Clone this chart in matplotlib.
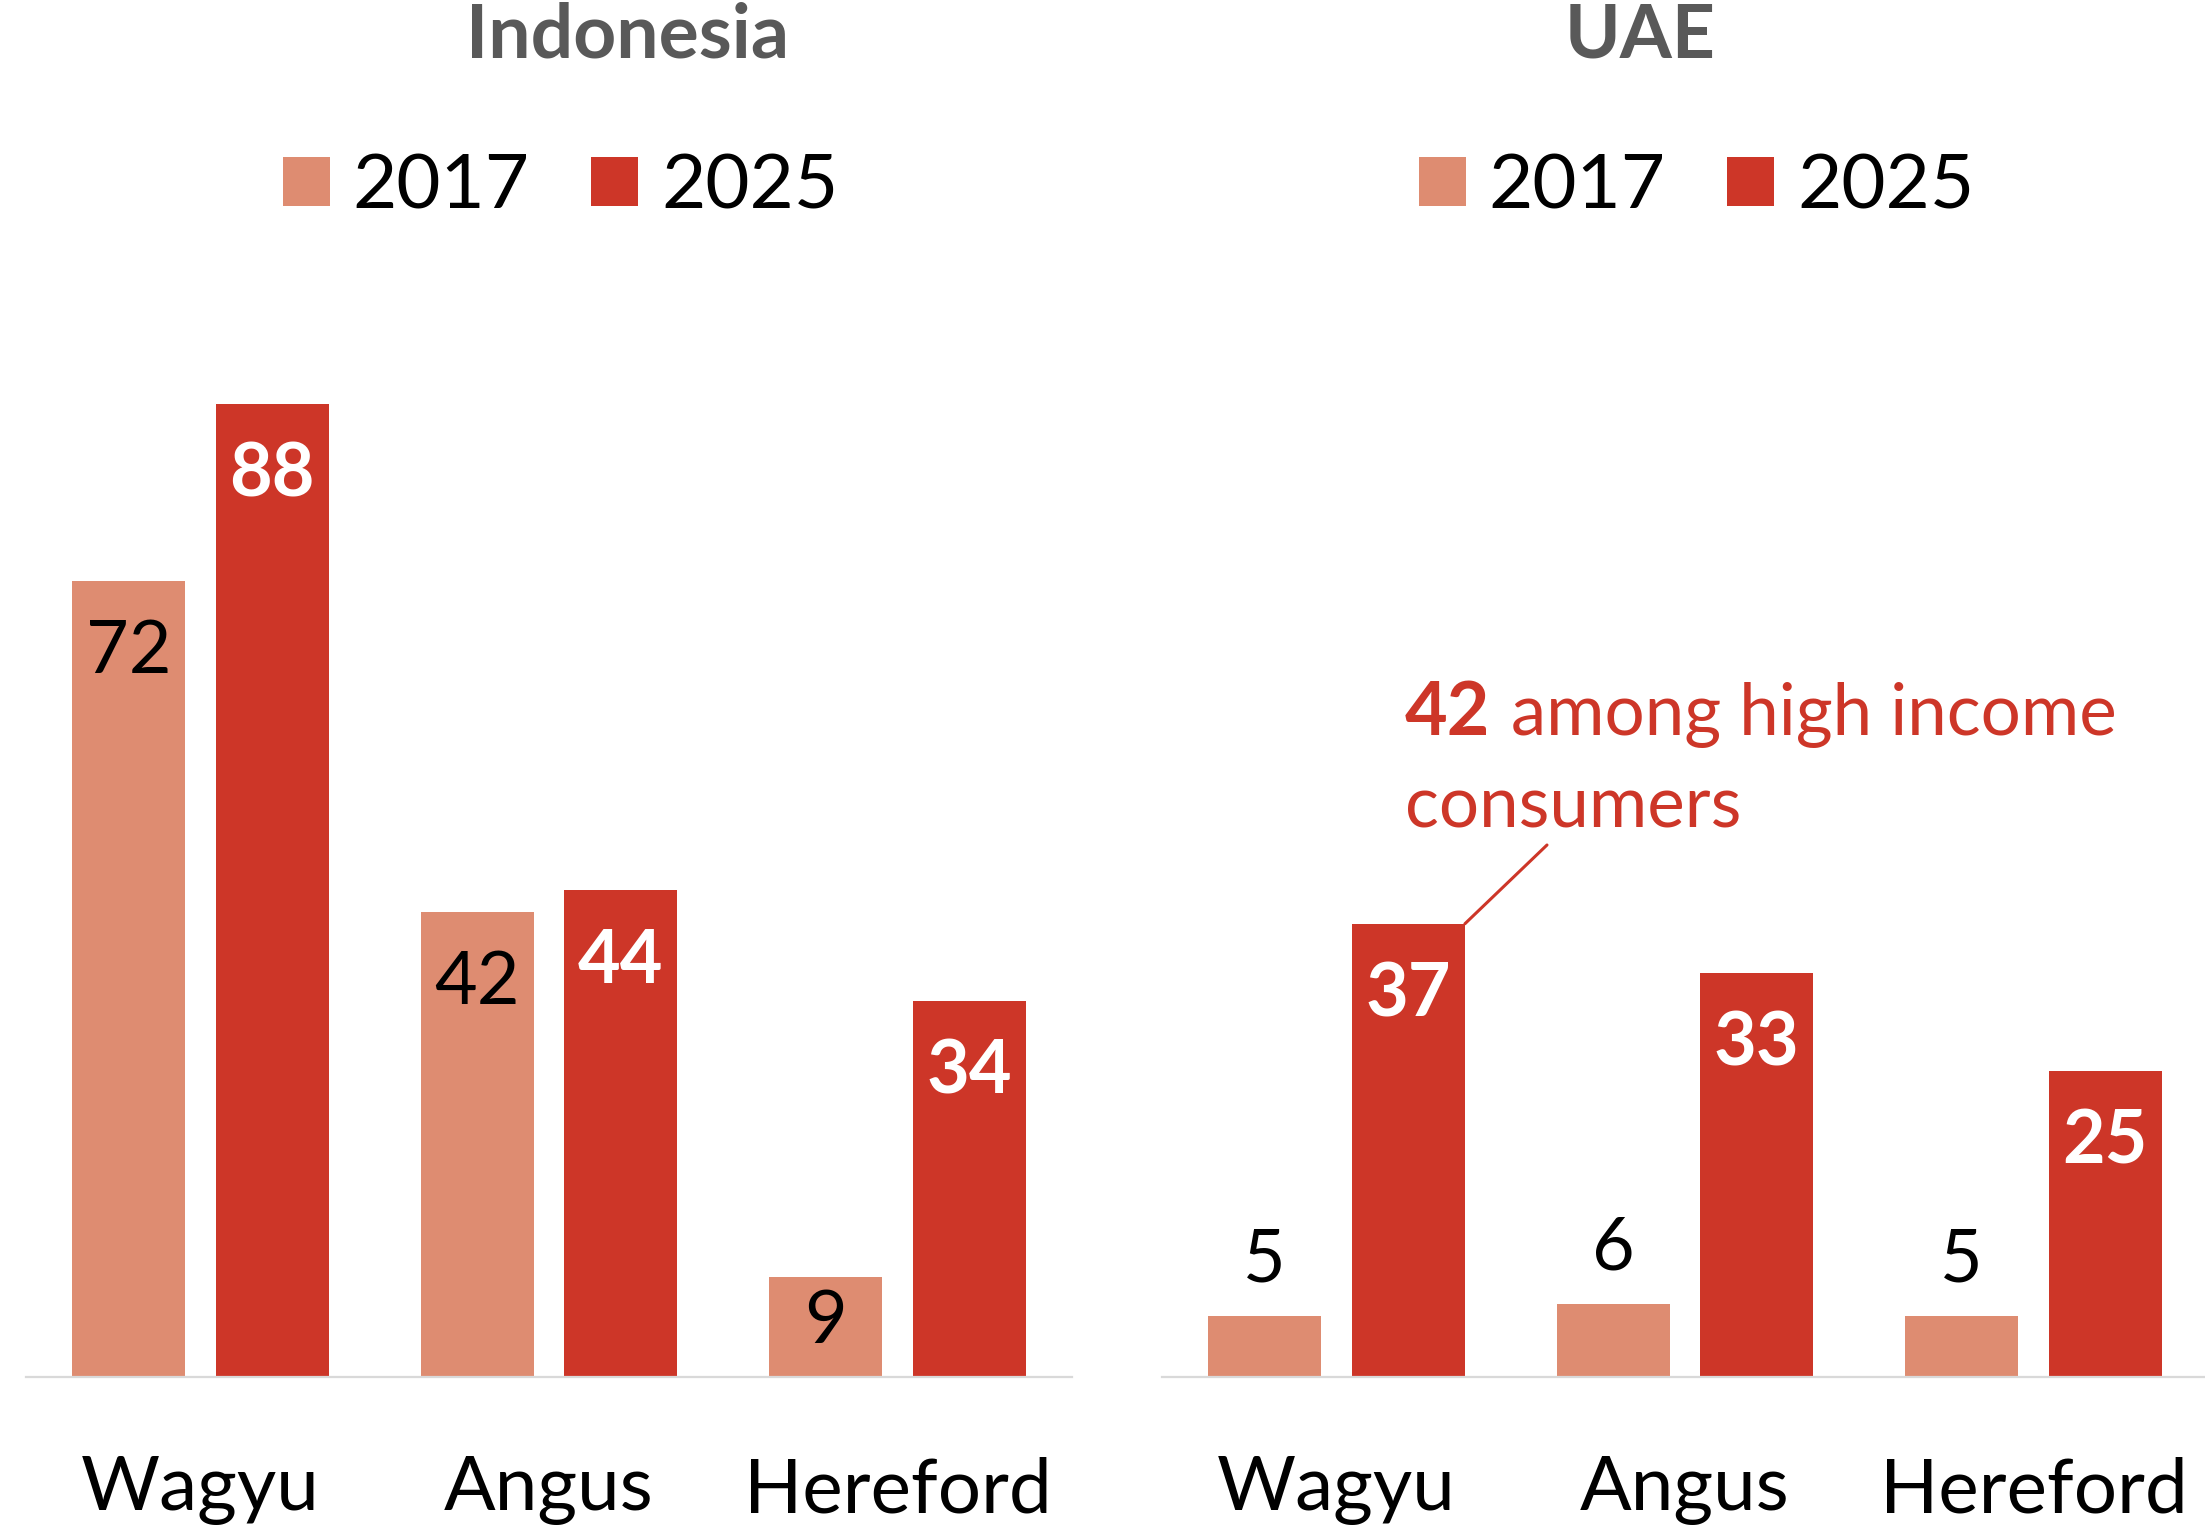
import matplotlib
matplotlib.use('Agg')
import matplotlib.pyplot as plt
import numpy as np

# ---------------- data ----------------
categories = ['Wagyu', 'Angus', 'Hereford']
years = ['2017', '2025']
indonesia_2017 = [72, 42, 9]
indonesia_2025 = [88, 44, 34]
uae_2017 = [5, 6, 5]
uae_2025 = [37, 33, 25]
panel_titles = ['Indonesia', 'UAE']
annotation_value = '42'
annotation_line1 = 'among high income'
annotation_line2 = 'consumers'

# ---------------- style ----------------
plt.rcParams['font.family'] = ['Lato', 'DejaVu Sans']
W, H, DPI = 2205, 1527, 100
PT = 72 / DPI  # px -> pt
C17 = '#DE8C71'
C25 = '#CD3628'
TITLE_C = '#595959'
AXIS_C = '#D9D9D9'

def fx(x):
    return x / W

def fy(y):
    return 1 - y / H

fig = plt.figure(figsize=(W / DPI, H / DPI), dpi=DPI)

base_y, top_y = 1377, 200
span_px = 348.5 * 3
panels = [
    dict(left=26.25, title=panel_titles[0], v17=indonesia_2017, v25=indonesia_2025,
         ppu=11.06, lab17='inside', title_x=628, legend_x=560.5),
    dict(left=1162.25, title=panel_titles[1], v17=uae_2017, v25=uae_2025,
         ppu=12.25, lab17='outside', title_x=1640, legend_x=1696.5),
]

x = np.arange(len(categories))
bw = 0.325
off = 0.206
axes = []
for p in panels:
    ax = fig.add_axes([fx(p['left']), fy(base_y), span_px / W, (base_y - top_y) / H])
    axes.append(ax)
    ax.set_xlim(-0.5, 2.5)
    ax.set_ylim(0, (base_y - top_y) / p['ppu'])
    b17 = ax.bar(x - off, p['v17'], bw, color=C17, zorder=2)
    b25 = ax.bar(x + off, p['v25'], bw, color=C25, zorder=2)
    for s in ['top', 'left', 'right']:
        ax.spines[s].set_visible(False)
    ax.spines['bottom'].set_color(AXIS_C)
    ax.spines['bottom'].set_linewidth(1.6)
    ax.set_yticks([])
    ax.set_xticks(x, categories)
    ax.tick_params(axis='x', length=0, pad=57, labelsize=55)

    # labels 2017
    for rect, v in zip(b17, p['v17']):
        cx = rect.get_x() + rect.get_width() / 2
        hpx = v * p['ppu']
        if p['lab17'] == 'inside':
            center = -min(65, 0.39 * hpx)
        else:
            center = 61
        ax.annotate(str(v), xy=(cx, v), xytext=(0, (center - 27) * PT),
                    textcoords='offset points', ha='center', va='baseline',
                    fontsize=53, color='black', zorder=3)
    # labels 2025
    for rect, v in zip(b25, p['v25']):
        cx = rect.get_x() + rect.get_width() / 2
        ax.annotate(str(v), xy=(cx, v), xytext=(0, (-66 - 27) * PT),
                    textcoords='offset points', ha='center', va='baseline',
                    fontsize=53, fontweight='bold', color='white', zorder=3)

    fig.text(fx(p['title_x']), fy(57), p['title'], ha='center', va='baseline',
             fontsize=54, fontweight='bold', color=TITLE_C)

    ax.legend([b17, b25], years, ncol=2, loc='center',
              bbox_to_anchor=(fx(p['legend_x']), fy(187)), bbox_transform=fig.transFigure,
              frameon=False, fontsize=55, handlelength=0.62, handleheight=0.62,
              handletextpad=0.3, columnspacing=0.8, borderpad=0, borderaxespad=0)

# annotation on UAE Wagyu 2025
ax = axes[1]
corner_x = x[0] + off + bw / 2
ax.annotate('', xy=(corner_x, uae_2025[0]), xycoords='data',
            xytext=(fx(1547), fy(845)), textcoords='figure fraction',
            arrowprops=dict(arrowstyle='-', color=C25, lw=2.2, shrinkA=0, shrinkB=0))
fig.text(fx(1405), fy(735), annotation_value, ha='left', va='baseline',
         fontsize=53, fontweight='bold', color=C25)
fig.text(fx(1511), fy(735), annotation_line1, ha='left', va='baseline',
         fontsize=51, color=C25)
fig.text(fx(1405), fy(827), annotation_line2, ha='left', va='baseline',
         fontsize=51, color=C25)

fig.savefig('out.png', dpi=DPI)
